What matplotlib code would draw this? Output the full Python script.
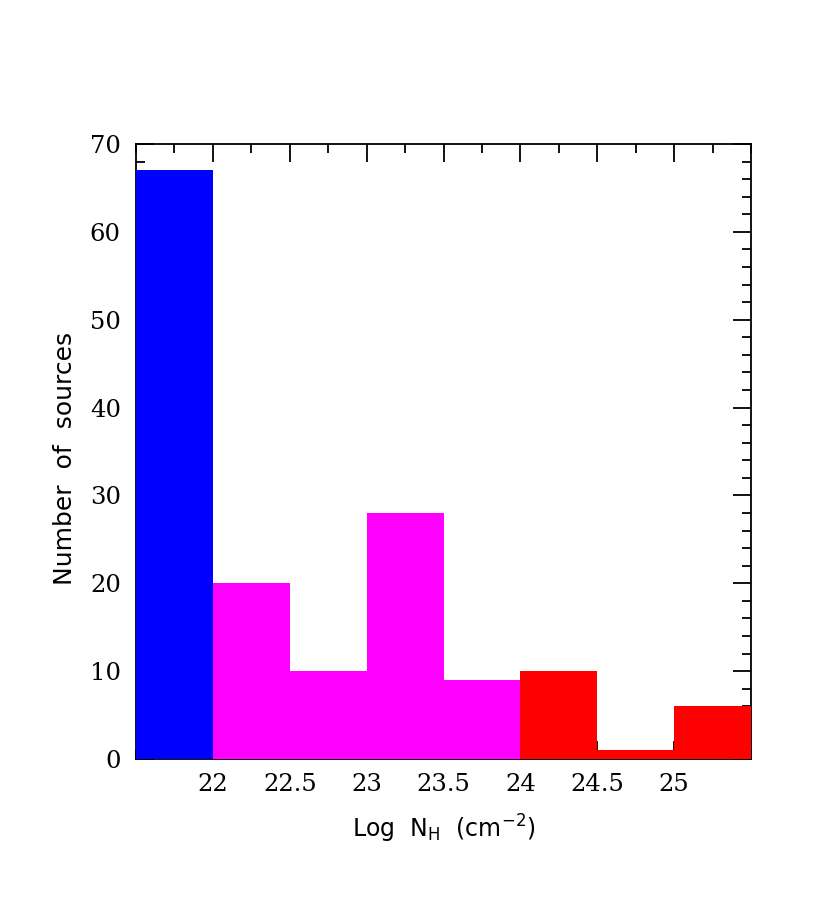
import matplotlib
matplotlib.use("Agg")
from matplotlib import pyplot as plt
from matplotlib.ticker import MultipleLocator

# bin edges (Log NH) and counts
bin_left = [21.5, 22.0, 22.5, 23.0, 23.5, 24.0, 24.5, 25.0]
counts = [67, 20, 10, 28, 9, 10, 1, 6]
bin_colors = ['#0000ff', '#ff00ff', '#ff00ff', '#ff00ff', '#ff00ff',
              '#ff0000', '#ff0000', '#ff0000']
xtick_vals = [22, 22.5, 23, 23.5, 24, 24.5, 25]
xtick_labels = ['22', '22.5', '23', '23.5', '24', '24.5', '25']

plt.rcParams['mathtext.default'] = 'regular'

fig = plt.figure(figsize=(8.3, 9.11), dpi=100)
ax = fig.add_axes([0.1639, 0.1668, 0.7410, 0.6751])

ax.bar(bin_left, counts, width=0.5, align='edge', color=bin_colors,
       edgecolor='none', zorder=3)

ax.set_xlim(21.5, 25.5)
ax.set_ylim(0, 70)
ax.set_xticks(xtick_vals)
ax.set_xticklabels(xtick_labels)
ax.xaxis.set_minor_locator(MultipleLocator(0.25))
ax.yaxis.set_major_locator(MultipleLocator(10))
ax.yaxis.set_minor_locator(MultipleLocator(2))

ax.tick_params(which='both', direction='in', top=True, right=True,
               width=1.3, color='black')
ax.tick_params(which='major', length=13)
ax.tick_params(axis='x', which='major', pad=10)
ax.tick_params(axis='y', which='major', pad=11)
ax.tick_params(which='minor', length=6.5)
for lab in ax.get_xticklabels() + ax.get_yticklabels():
    lab.set_family('DejaVu Serif')
    lab.set_fontsize(17.5)
for sp in ax.spines.values():
    sp.set_linewidth(1.3)

ax.set_xlabel('Log  N$_{H}$  (cm$^{-2}$)', fontsize=17, labelpad=12)
ax.set_ylabel('Number  of  sources', fontsize=18)
ax.yaxis.set_label_coords(-0.096, 0.488)

plt.savefig('out.png')
